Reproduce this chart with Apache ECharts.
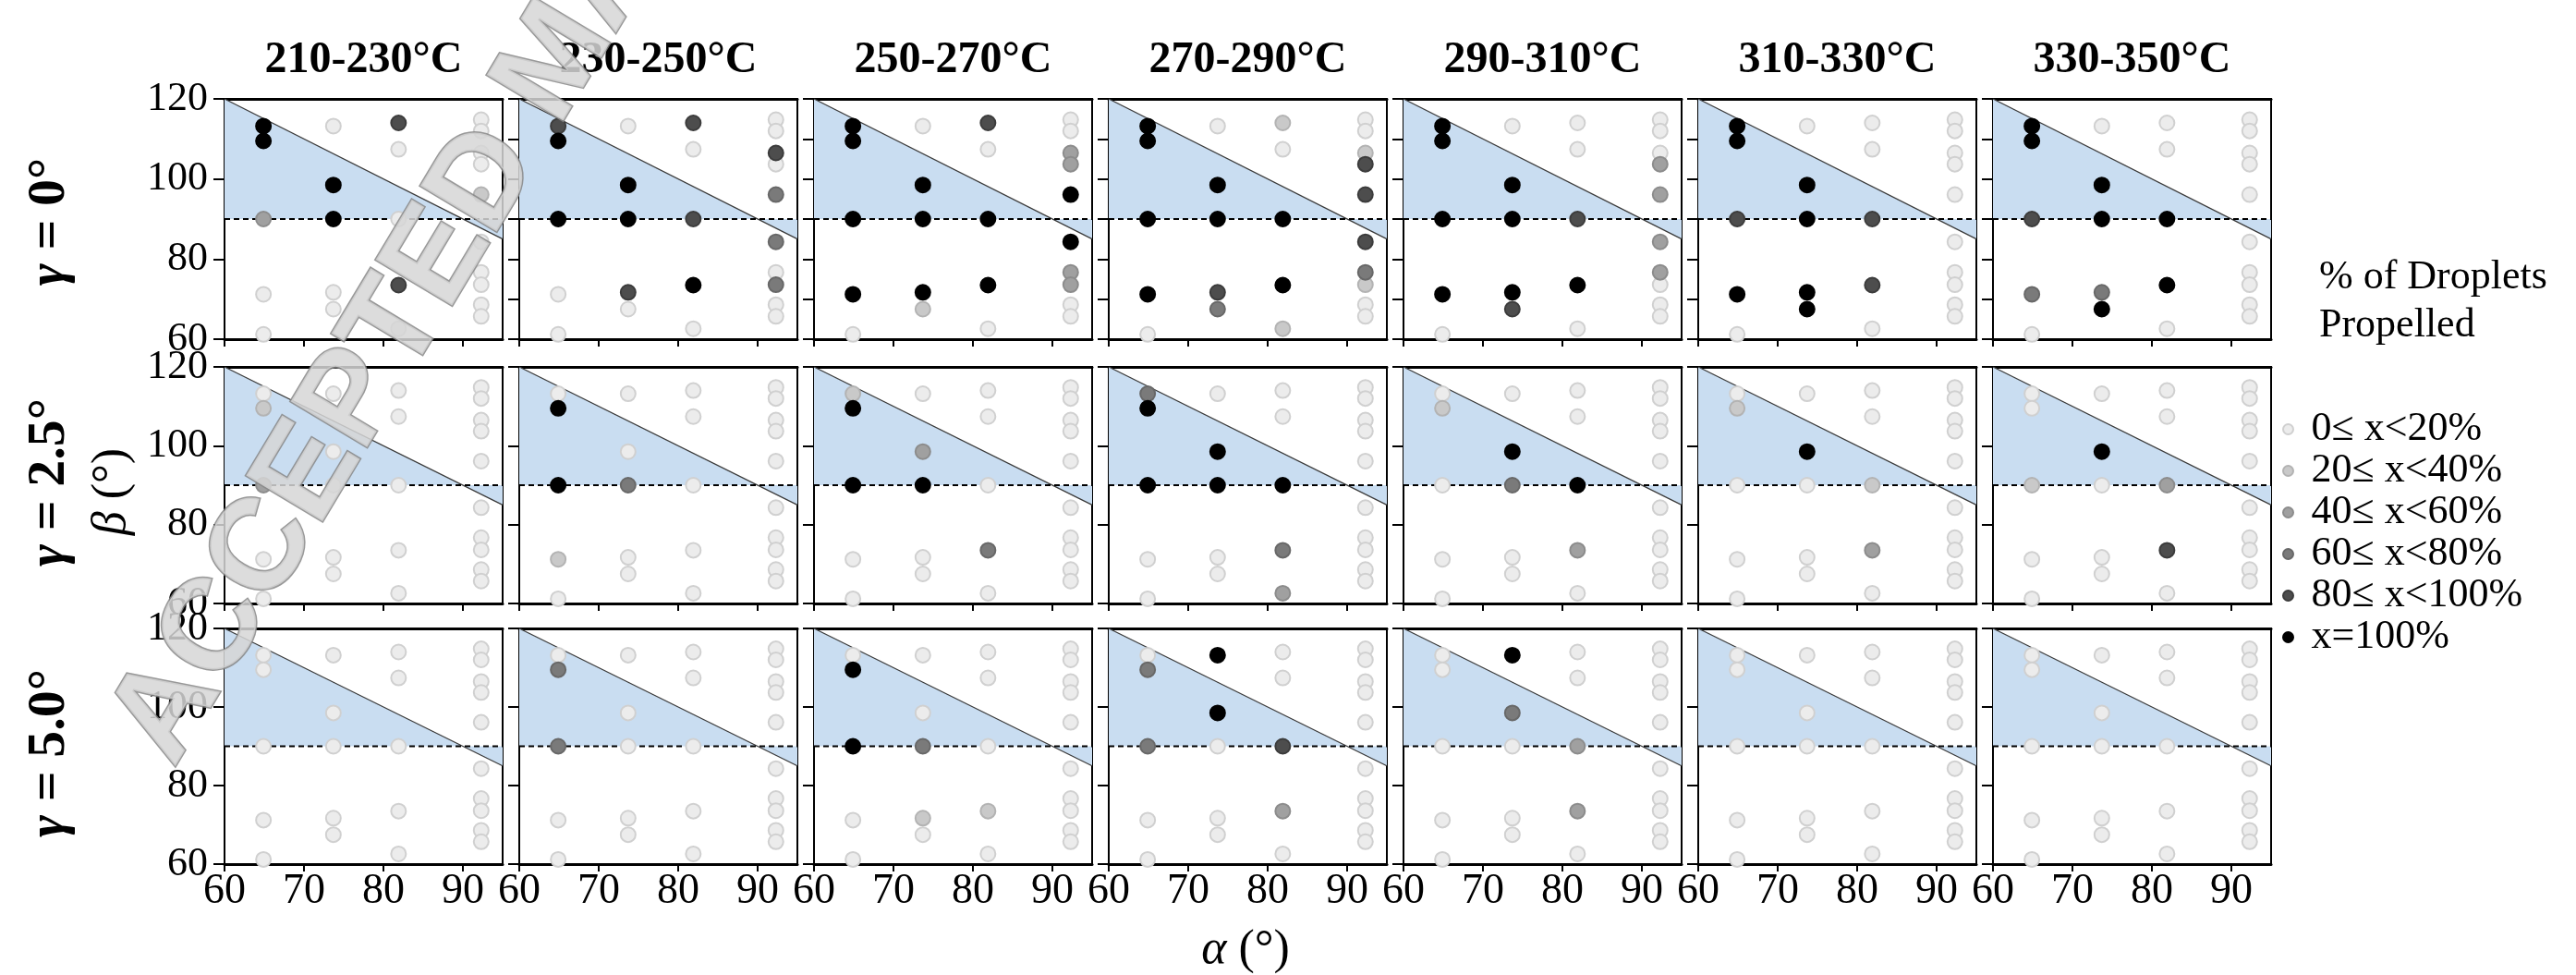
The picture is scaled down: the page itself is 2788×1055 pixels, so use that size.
<!DOCTYPE html>
<html><head><meta charset="utf-8">
<script src="https://cdn.jsdelivr.net/npm/echarts@6/dist/echarts.min.js"></script>
<style>html,body{margin:0;padding:0;background:#fff}#c{width:2788px;height:1055px}</style>
</head><body><div id="c"></div>
<script>
// ---------------- data ----------------
const temperatureRanges = ['210-230°C','230-250°C','250-270°C','270-290°C','290-310°C','310-330°C','330-350°C'];
const gammaLabels = ['0°','2.5°','5.0°'];
const alphaPositions = [64.9, 73.7, 81.9, 92.3];
const betaAtAlpha65 = [113.2, 109.5, 90, 71.2, 61.2];
const betaAtAlpha74 = [113.2, 98.5, 90, 71.7, 67.5];
const betaAtAlpha82 = [114, 107.4, 90, 73.5, 62.6];
const betaAtAlpha92 = [114.8, 112, 106.5, 103.7, 96.1, 84.3, 76.7, 73.6, 68.6, 65.7];
const levelLabels = ['0\u2264 x<20%','20\u2264 x<40%','40\u2264 x<60%','60\u2264 x<80%','80\u2264 x<100%','x=100%'];
const xTickValues = [60, 70, 80, 90];
const yTickValues = [60, 80, 100, 120];
const yTickValuesFine = [60, 70, 80, 90, 100, 110, 120];
const alphaRange = [60, 95];
const betaRange = [60, 120];
const criticalSum = 180;   // boundary line alpha + beta = 180
const betaReference = 90;  // dashed reference line

// level index per point: order = alpha65 x5, alpha74 x5, alpha82 x5, alpha92 x10
const levelsGamma0 = [
  [5,5,2,0,0, 0,5,5,0,0, 4,0,0,4,0, 0,0,0,0,1,0,0,0,0,0],
  [4,5,5,0,0, 0,5,5,4,0, 4,0,4,5,0, 0,0,4,0,3,3,0,3,0,0],
  [5,5,5,5,0, 0,5,5,5,1, 4,0,5,5,0, 0,0,2,2,5,5,2,2,0,0],
  [5,5,5,5,0, 0,5,5,4,3, 1,0,5,5,1, 0,0,1,4,4,4,3,1,0,0],
  [5,5,5,5,0, 0,5,5,5,4, 0,0,4,5,0, 0,0,0,2,2,2,2,0,0,0],
  [5,5,4,5,0, 0,5,5,5,5, 0,0,4,4,0, 0,0,0,0,0,0,0,0,0,0],
  [5,5,4,3,0, 0,5,5,3,5, 0,0,5,5,0, 0,0,0,0,0,0,0,0,0,0]
];
const levelsGamma25 = [
  [0,1,2,0,0, 0,0,0,0,0, 0,0,0,0,0, 0,0,0,0,0,0,0,0,0,0],
  [0,5,5,1,0, 0,0,3,0,0, 0,0,0,0,0, 0,0,0,0,0,0,0,0,0,0],
  [1,5,5,0,0, 0,2,5,0,0, 0,0,0,3,0, 0,0,0,0,0,0,0,0,0,0],
  [3,5,5,0,0, 0,5,5,0,0, 0,0,5,3,2, 0,0,0,0,0,0,0,0,0,0],
  [0,1,0,0,0, 0,5,3,0,0, 0,0,5,2,0, 0,0,0,0,0,0,0,0,0,0],
  [0,1,0,0,0, 0,5,0,0,0, 0,0,1,2,0, 0,0,0,0,0,0,0,0,0,0],
  [0,0,1,0,0, 0,5,0,0,0, 0,0,2,4,0, 0,0,0,0,0,0,0,0,0,0]
];
const levelsGamma50 = [
  [0,0,0,0,0, 0,0,0,0,0, 0,0,0,0,0, 0,0,0,0,0,0,0,0,0,0],
  [0,3,3,0,0, 0,0,0,0,0, 0,0,0,0,0, 0,0,0,0,0,0,0,0,0,0],
  [0,5,5,0,0, 0,0,3,1,0, 0,0,0,1,0, 0,0,0,0,0,0,0,0,0,0],
  [0,3,3,0,0, 5,5,0,0,0, 0,0,4,2,0, 0,0,0,0,0,0,0,0,0,0],
  [0,0,0,0,0, 5,3,0,0,0, 0,0,2,2,0, 0,0,0,0,0,0,0,0,0,0],
  [0,0,0,0,0, 0,0,0,0,0, 0,0,0,0,0, 0,0,0,0,0,0,0,0,0,0],
  [0,0,0,0,0, 0,0,0,0,0, 0,0,0,0,0, 0,0,0,0,0,0,0,0,0,0]
];

// ---------------- styling / layout ----------------
const serif = '"Liberation Serif","Times New Roman",serif';
const levelFill = ['#ececec','#c9c9c9','#a0a0a0','#7a7a7a','#4d4d4d','#000000'];
const levelBorder = ['#d0d0d0','#b3b3b3','#8c8c8c','#686868','#3c3c3c','#000000'];
const shadeColor = '#c9ddf1';
const panelLeft0 = 243, panelStep = 319, panelWidth = 301;
const rowTops = [107, 397, 680];
const rowHeights = [260, 256, 255];

const allLevels = [levelsGamma0, levelsGamma25, levelsGamma50];
const pointPositions = [];
[betaAtAlpha65, betaAtAlpha74, betaAtAlpha82, betaAtAlpha92].forEach((betas, i) => {
  betas.forEach(b => pointPositions.push([alphaPositions[i], b]));
});

const grids = [], xAxes = [], yAxes = [], series = [];

function shadeRender(params, api) {
  const cross = criticalSum - betaReference;
  const tri1 = [[alphaRange[0], betaReference], [alphaRange[0], criticalSum - alphaRange[0]], [cross, betaReference]];
  const tri2 = [[cross, betaReference], [alphaRange[1], criticalSum - alphaRange[1]], [alphaRange[1], betaReference]];
  const mk = pts => ({type: 'polygon', shape: {points: pts.map(p => api.coord(p))}, style: {fill: shadeColor}});
  return {type: 'group', children: [mk(tri1), mk(tri2)]};
}

for (let r = 0; r < 3; r++) {
  for (let c = 0; c < 7; c++) {
    const k = r * 7 + c;
    grids.push({left: panelLeft0 + c * panelStep, top: rowTops[r], width: panelWidth, height: rowHeights[r],
      show: true, borderColor: '#000', borderWidth: 2, backgroundColor: 'transparent'});
    xAxes.push({gridIndex: k, type: 'value', min: alphaRange[0], max: alphaRange[1], interval: 10, position: 'bottom',
      axisLine: {show: true, onZero: false, lineStyle: {color: '#000', width: 3}},
      axisTick: {show: true, length: 8, lineStyle: {color: '#000', width: 2}, customValues: xTickValues},
      axisLabel: {show: r === 2, customValues: xTickValues, fontSize: 46, fontFamily: serif, color: '#000', margin: 7},
      splitLine: {show: false}});
    xAxes.push({gridIndex: k, type: 'value', min: alphaRange[0], max: alphaRange[1], position: 'top',
      axisLine: {show: true, onZero: false, lineStyle: {color: '#000', width: 3}},
      axisTick: {show: false}, axisLabel: {show: false}, splitLine: {show: false}});
    const fine = (r === 0 && c > 0);
    yAxes.push({gridIndex: k, type: 'value', min: betaRange[0], max: betaRange[1], interval: fine ? 10 : 20,
      axisLine: {show: true, onZero: false, lineStyle: {color: '#000', width: 2}},
      axisTick: {show: true, length: 12, lineStyle: {color: '#000', width: 2}, customValues: fine ? yTickValuesFine : yTickValues},
      axisLabel: {show: c === 0, customValues: yTickValues, fontSize: 44, fontFamily: serif, color: '#000', margin: 18},
      splitLine: {show: false}});
    const xi = 2 * k, yi = k;
    series.push({type: 'custom', xAxisIndex: xi, yAxisIndex: yi, renderItem: shadeRender,
      data: [[alphaRange[0], betaReference]], silent: true, z: 1, clip: false});
    series.push({type: 'line', xAxisIndex: xi, yAxisIndex: yi, symbol: 'none', silent: true, z: 2,
      data: [[alphaRange[0], criticalSum - alphaRange[0]], [alphaRange[1], criticalSum - alphaRange[1]]],
      lineStyle: {color: '#3a3a3a', width: 1.3}});
    series.push({type: 'line', xAxisIndex: xi, yAxisIndex: yi, symbol: 'none', silent: true, z: 2,
      data: [[alphaRange[0], betaReference], [alphaRange[1], betaReference]],
      lineStyle: {color: '#000', width: 2, type: [6, 4]}});
    const lv = allLevels[r][c];
    for (let L = 0; L < 6; L++) {
      const pts = pointPositions.filter((p, i) => lv[i] === L);
      series.push({type: 'scatter', name: levelLabels[L], xAxisIndex: xi, yAxisIndex: yi, z: 3,
        symbol: 'circle', symbolSize: 16, data: pts, silent: true,
        itemStyle: {color: levelFill[L], borderColor: levelBorder[L], borderWidth: 2, opacity: 1}});
    }
  }
}

const graphics = [];
temperatureRanges.forEach((t, c) => {
  graphics.push({type: 'text', x: panelLeft0 + c * panelStep + panelWidth / 2, y: 66, z: 50,
    style: {text: t, fontSize: 48, fontWeight: 'bold', fontFamily: serif, fill: '#000',
      align: 'center', verticalAlign: 'middle', textAlign: 'center', textVerticalAlign: 'middle'}});
});
const gammaCenters = [240, 522, 815];
gammaLabels.forEach((g, r) => {
  graphics.push({type: 'text', x: 54, y: gammaCenters[r], rotation: Math.PI / 2, z: 50,
    style: {text: '{g|\u03b3} = ' + g, fontSize: 58, fontWeight: 'bold', fontFamily: serif, fill: '#000',
      align: 'center', verticalAlign: 'middle', textAlign: 'center', textVerticalAlign: 'middle',
      rich: {g: {fontSize: 58, fontWeight: 'bold', fontStyle: 'italic', fontFamily: serif, fill: '#000'}}}});
});
graphics.push({type: 'text', x: 121, y: 532, rotation: Math.PI / 2, z: 50,
  style: {text: '{g|\u03b2} (°)', fontSize: 52, fontFamily: serif, fill: '#000',
    align: 'center', verticalAlign: 'middle', textAlign: 'center', textVerticalAlign: 'middle',
    rich: {g: {fontSize: 52, fontStyle: 'italic', fontFamily: serif, fill: '#000'}}}});
graphics.push({type: 'text', x: 1348, y: 1028, z: 50,
  style: {text: '{g|\u03b1} (°)', fontSize: 52, fontFamily: serif, fill: '#000',
    align: 'center', verticalAlign: 'middle', textAlign: 'center', textVerticalAlign: 'middle',
    rich: {g: {fontSize: 52, fontStyle: 'italic', fontFamily: serif, fill: '#000'}}}});
graphics.push({type: 'text', x: 2510, y: 274, z: 50,
  style: {text: '% of Droplets\nPropelled', fontSize: 44, lineHeight: 52, fontFamily: serif, fill: '#000',
    align: 'left', verticalAlign: 'top', textAlign: 'left', textVerticalAlign: 'top'}});
// watermark
const wmAngle = 59 * Math.PI / 180;
graphics.push({type: 'text', x: 155, y: 812, rotation: wmAngle, z: 200, silent: true,
  style: {text: 'ACCEPTED MANUSCRIPT', fontSize: 140, fontWeight: 'bold', fontFamily: '"Liberation Sans",Arial,sans-serif',
    fill: 'rgba(214,214,214,0.85)', stroke: 'rgba(135,135,135,0.85)', lineWidth: 3,
    align: 'left', verticalAlign: 'middle', textAlign: 'left', textVerticalAlign: 'middle'}});

const chart = echarts.init(document.getElementById('c'), null, {renderer: 'canvas'});
chart.setOption({
  animation: false,
  backgroundColor: '#fff',
  grid: grids, xAxis: xAxes, yAxis: yAxes, series: series,
  legend: {data: levelLabels, orient: 'vertical', left: 2465, top: 437, itemWidth: 40, itemHeight: 11, itemGap: 0,
    icon: 'circle', selectedMode: false,
    textStyle: {fontSize: 44, fontFamily: serif, color: '#000', lineHeight: 45}},
  graphic: graphics
});
</script></body></html>
